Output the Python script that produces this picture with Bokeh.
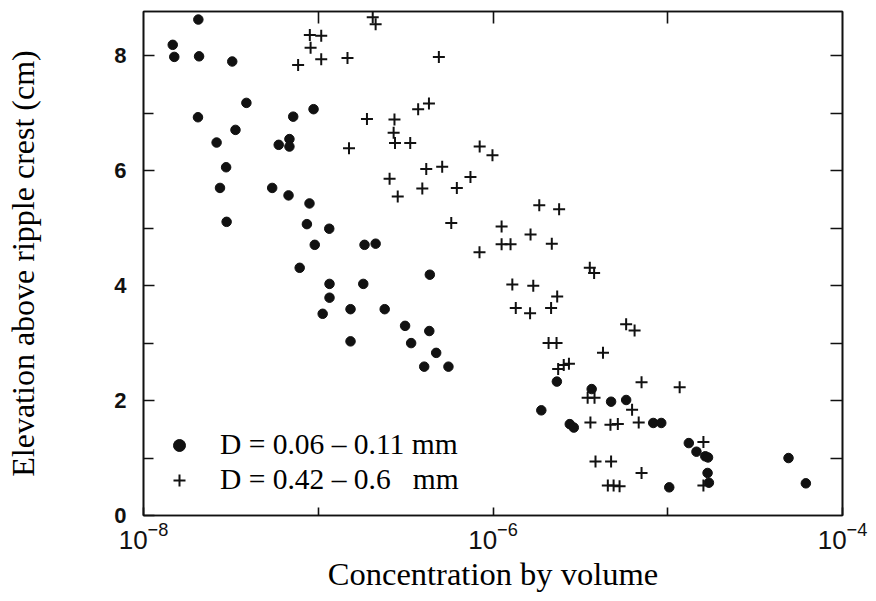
from bokeh.plotting import figure
from bokeh.models import (FixedTicker, LogTickFormatter, LinearAxis,
                          Legend, LegendItem, Range1d)
from bokeh.embed import file_html
from bokeh.resources import INLINE

# Fine sand: D = 0.06 - 0.11 mm (filled circles)
fine_conc = [2.06e-8, 1.47e-8, 1.50e-8, 2.08e-8, 3.22e-8, 3.88e-8, 2.05e-8, 7.19e-8,
             9.40e-8, 3.36e-8, 2.62e-8, 5.94e-8, 6.84e-8, 6.84e-8, 2.97e-8, 2.74e-8,
             5.45e-8, 6.76e-8, 8.91e-8, 2.99e-8, 8.61e-8, 1.156e-7, 9.55e-8, 1.84e-7,
             2.13e-7, 7.83e-8, 1.16e-7, 1.81e-7, 1.16e-7, 1.06e-7, 1.53e-7, 1.53e-7,
             4.35e-7, 2.40e-7, 3.14e-7, 4.32e-7, 3.40e-7, 4.73e-7, 4.04e-7, 5.56e-7,
             2.32e-6, 3.67e-6, 4.74e-6, 1.89e-6, 2.75e-6, 2.90e-6, 5.78e-6, 8.26e-6,
             9.18e-6, 1.32e-5, 1.46e-5, 1.64e-5, 1.70e-5, 1.69e-5, 1.72e-5, 1.02e-5,
             4.91e-5, 6.17e-5]
fine_elev = [8.63, 8.19, 7.98, 7.99, 7.90, 7.18, 6.93, 6.94,
             7.07, 6.71, 6.49, 6.45, 6.55, 6.42, 6.06, 5.70,
             5.70, 5.57, 5.43, 5.11, 5.07, 4.99, 4.71, 4.71,
             4.73, 4.31, 4.03, 4.03, 3.79, 3.51, 3.59, 3.03,
             4.19, 3.59, 3.30, 3.21, 3.00, 2.83, 2.59, 2.59,
             2.33, 2.20, 1.98, 1.83, 1.59, 1.53, 2.01, 1.61,
             1.61, 1.26, 1.11, 1.03, 1.01, 0.74, 0.57, 0.49,
             1.00, 0.56]

# Coarse sand: D = 0.42 - 0.6 mm (plus signs)
coarse_conc = [8.95e-8, 1.04e-7, 9.04e-8, 7.67e-8, 1.04e-7, 1.47e-7, 2.05e-7, 2.13e-7,
               1.90e-7, 1.50e-7, 4.90e-7, 3.73e-7, 4.30e-7, 2.73e-7, 2.70e-7, 2.75e-7,
               3.36e-7, 8.39e-7, 9.93e-7, 2.56e-7, 4.15e-7, 5.12e-7, 7.43e-7, 2.85e-7,
               3.94e-7, 6.21e-7, 1.84e-6, 2.39e-6, 5.77e-7, 1.12e-6, 1.64e-6, 1.12e-6,
               1.26e-6, 2.17e-6, 8.37e-7, 3.58e-6, 3.79e-6, 1.29e-6, 1.70e-6, 2.33e-6,
               1.35e-6, 1.63e-6, 2.15e-6, 2.08e-6, 2.31e-6, 2.36e-6, 2.54e-6, 2.72e-6,
               4.26e-6, 3.48e-6, 3.81e-6, 3.61e-6, 4.70e-6, 3.86e-6, 4.74e-6, 4.54e-6,
               4.90e-6, 5.30e-6, 5.78e-6, 6.46e-6, 7.08e-6, 1.17e-5, 6.25e-6, 6.82e-6,
               5.18e-6, 7.08e-6, 1.60e-5, 1.60e-5]
coarse_elev = [8.36, 8.35, 8.14, 7.84, 7.94, 7.96, 8.67, 8.55,
               6.90, 6.39, 7.98, 7.07, 7.17, 6.89, 6.66, 6.48,
               6.48, 6.42, 6.27, 5.86, 6.03, 6.07, 5.89, 5.55,
               5.69, 5.70, 5.40, 5.33, 5.09, 5.03, 4.89, 4.72,
               4.72, 4.73, 4.58, 4.31, 4.22, 4.02, 4.00, 3.81,
               3.61, 3.52, 3.61, 3.00, 3.00, 2.55, 2.62, 2.64,
               2.83, 2.05, 2.05, 1.62, 1.58, 0.94, 0.94, 0.52,
               0.52, 0.51, 3.33, 3.22, 2.32, 2.23, 1.84, 1.62,
               1.59, 0.74, 1.28, 0.52]

x_major = [1e-8, 1e-6, 1e-4]
x_minor = [1e-7, 1e-5]
x_top = [1e-7, 1e-6, 1e-5]
y_major = [0, 2, 4, 6, 8]
y_minor = [1, 3, 5, 7]
y_right = [1, 2, 3, 4, 5, 6, 7, 8]

label_fine = "D = 0.06 \u2013 0.11 mm"
label_coarse = "D = 0.42 \u2013 0.6\u00a0\u00a0\u00a0mm"
x_title = "Concentration by volume"
y_title = "Elevation above ripple crest (cm)"

INK = "#111111"

p = figure(width=876, height=601, x_axis_type="log",
           x_range=Range1d(1e-8, 1e-4), y_range=Range1d(0, 8.77),
           output_backend="svg", toolbar_location=None,
           min_border_left=143, min_border_right=34,
           min_border_top=11, min_border_bottom=86)

p.xgrid.visible = False
p.ygrid.visible = False
p.outline_line_color = INK
p.outline_line_width = 1.6
p.background_fill_color = "white"
p.border_fill_color = "white"

# bottom axis
xa = p.xaxis[0]
xa.ticker = FixedTicker(ticks=x_major, minor_ticks=x_minor)
xa.formatter = LogTickFormatter()
xa.major_tick_in = 8
xa.major_tick_out = 0
xa.minor_tick_in = 8
xa.minor_tick_out = 0
xa.axis_line_width = 1.6
xa.axis_line_color = INK
xa.major_tick_line_color = INK
xa.minor_tick_line_color = INK
xa.major_tick_line_width = 1.6
xa.minor_tick_line_width = 1.6
xa.major_label_text_font = "Liberation Sans"
xa.major_label_text_font_size = "26px"
xa.major_label_text_color = INK
xa.major_label_standoff = 6
xa.axis_label = x_title
xa.axis_label_text_font = "Liberation Serif"
xa.axis_label_text_font_style = "normal"
xa.axis_label_text_font_size = "32.5px"
xa.axis_label_text_color = "black"
xa.axis_label_standoff = 4

# left axis
ya = p.yaxis[0]
ya.ticker = FixedTicker(ticks=y_major, minor_ticks=y_minor)
ya.major_tick_in = 11
ya.major_tick_out = 0
ya.minor_tick_in = 10
ya.minor_tick_out = 0
ya.axis_line_width = 1.6
ya.axis_line_color = INK
ya.major_tick_line_color = INK
ya.minor_tick_line_color = INK
ya.major_tick_line_width = 1.6
ya.minor_tick_line_width = 1.6
ya.major_label_text_font = "Liberation Sans"
ya.major_label_text_font_size = "22px"
ya.major_label_text_font_style = "bold"
ya.major_label_text_color = INK
ya.major_label_standoff = 17
ya.axis_label = y_title
ya.axis_label_text_font = "Liberation Serif"
ya.axis_label_text_font_style = "normal"
ya.axis_label_text_font_size = "32px"
ya.axis_label_text_color = "black"
ya.axis_label_standoff = 70

# top axis (ticks only)
top = LinearAxis(ticker=FixedTicker(ticks=x_top), major_tick_in=12, major_tick_out=0,
                 minor_tick_in=0, minor_tick_out=0, major_label_text_font_size="1px",
                 major_label_text_alpha=0, major_label_standoff=0,
                 axis_line_width=1.6, axis_line_color=INK,
                 major_tick_line_width=1.6, major_tick_line_color=INK)
p.add_layout(top, "above")

# right axis (ticks only)
right = LinearAxis(ticker=FixedTicker(ticks=y_right), major_tick_in=12, major_tick_out=0,
                   minor_tick_in=0, minor_tick_out=0, major_label_text_font_size="1px",
                   major_label_text_alpha=0, major_label_standoff=0,
                   axis_line_width=1.6, axis_line_color=INK,
                   major_tick_line_width=1.6, major_tick_line_color=INK)
p.add_layout(right, "right")

r_fine = p.scatter(fine_conc, fine_elev, marker="circle", size=9.5,
                   fill_color=INK, line_color=INK)
r_coarse = p.scatter(coarse_conc, coarse_elev, marker="cross", size=12,
                     line_color=INK, line_width=2)

legend = Legend(items=[LegendItem(label=label_fine, renderers=[r_fine]),
                       LegendItem(label=label_coarse, renderers=[r_coarse])],
                location=(21, 19), padding=0, margin=0, spacing=2,
                glyph_width=30, glyph_height=30, label_standoff=26,
                label_text_font="Liberation Serif", label_text_font_size="29.5px",
                label_text_color="black",
                border_line_color=None, background_fill_alpha=0)
p.add_layout(legend)

open("out.html", "w").write(file_html(p, INLINE))
